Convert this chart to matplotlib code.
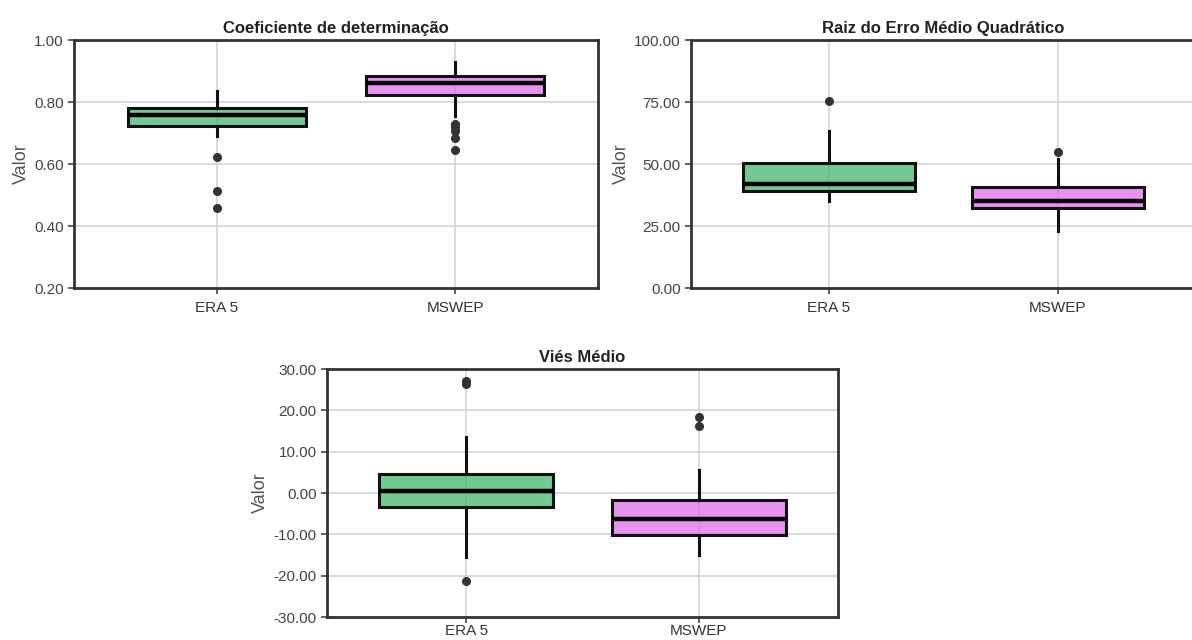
import matplotlib.pyplot as plt
from matplotlib.colors import to_rgba

plt.rcParams['font.family'] = ['Liberation Sans', 'DejaVu Sans']

grupos = ['ERA 5', 'MSWEP']
cores = ['#32B060', '#DE60EA']

# Coeficiente de determinação
r2_q1 = [0.722, 0.823]
r2_med = [0.758, 0.861]
r2_q3 = [0.782, 0.885]
r2_wlo = [0.690, 0.755]
r2_whi = [0.837, 0.930]
r2_out = [[0.624, 0.513, 0.457], [0.730, 0.719, 0.708, 0.684, 0.646]]

# Raiz do Erro Médio Quadrático
rmse_q1 = [39.0, 32.2]
rmse_med = [41.9, 35.1]
rmse_q3 = [50.6, 40.8]
rmse_wlo = [35.2, 23.0]
rmse_whi = [63.4, 52.2]
rmse_out = [[75.6], [54.9]]

# Viés Médio
vies_q1 = [-3.5, -10.1]
vies_med = [0.6, -6.4]
vies_q3 = [4.6, -1.7]
vies_wlo = [-15.4, -15.1]
vies_whi = [13.6, 5.6]
vies_out = [[27.1, 26.4, -21.4], [18.3, 16.3]]


def painel(ax, titulo, q1, med, q3, wlo, whi, out, ylim, yticks, xpad=5):
    stats = []
    for i in range(len(grupos)):
        stats.append(dict(q1=q1[i], med=med[i], q3=q3[i], whislo=wlo[i],
                          whishi=whi[i], fliers=out[i], label=grupos[i]))
    bp = ax.bxp(stats, positions=[1, 2], widths=0.75, patch_artist=True,
                showcaps=False,
                boxprops=dict(linewidth=2.2, edgecolor='#111111'),
                medianprops=dict(color='black', linewidth=3.2),
                whiskerprops=dict(color='#111111', linewidth=2.2),
                flierprops=dict(marker='o', markersize=5.5, markerfacecolor='#333333',
                                markeredgecolor='#333333'))
    for patch, c in zip(bp['boxes'], cores):
        patch.set_facecolor(to_rgba(c, 0.68))
        patch.set_edgecolor('#111111')
    ax.set_xlim(0.4, 2.6)
    ax.set_ylim(*ylim)
    ax.set_yticks(yticks)
    ax.set_yticklabels(['%.2f' % v for v in yticks])
    ax.set_title(titulo, fontsize=12, fontweight='bold', color='#222222', pad=5)
    ax.set_ylabel('Valor', fontsize=13, color='#555555', labelpad=3)
    ax.grid(True, color='#d4d4d4', linewidth=1.2)
    ax.set_axisbelow(True)
    for s in ax.spines.values():
        s.set_linewidth(2.0)
        s.set_color('#333333')
    ax.tick_params(labelsize=11, colors='#444444', length=4, width=1.2)
    ax.tick_params(axis='x', pad=xpad, labelcolor='#333333')


fig = plt.figure(figsize=(11.92, 6.4), dpi=100)
ax1 = fig.add_axes([0.0621, 0.55, 0.4396, 0.3875])
ax2 = fig.add_axes([0.5797, 0.55, 0.4233, 0.3875])
ax3 = fig.add_axes([0.2743, 0.0359, 0.4287, 0.3875])

painel(ax1, 'Coeficiente de determinação', r2_q1, r2_med, r2_q3, r2_wlo, r2_whi,
       r2_out, (0.2, 1.0), [0.2, 0.4, 0.6, 0.8, 1.0])
painel(ax2, 'Raiz do Erro Médio Quadrático', rmse_q1, rmse_med, rmse_q3, rmse_wlo,
       rmse_whi, rmse_out, (0, 100), [0, 25, 50, 75, 100])
painel(ax3, 'Viés Médio', vies_q1, vies_med, vies_q3, vies_wlo, vies_whi,
       vies_out, (-30, 30), [-30, -20, -10, 0, 10, 20, 30], xpad=1)

fig.savefig('out.png', dpi=100)
